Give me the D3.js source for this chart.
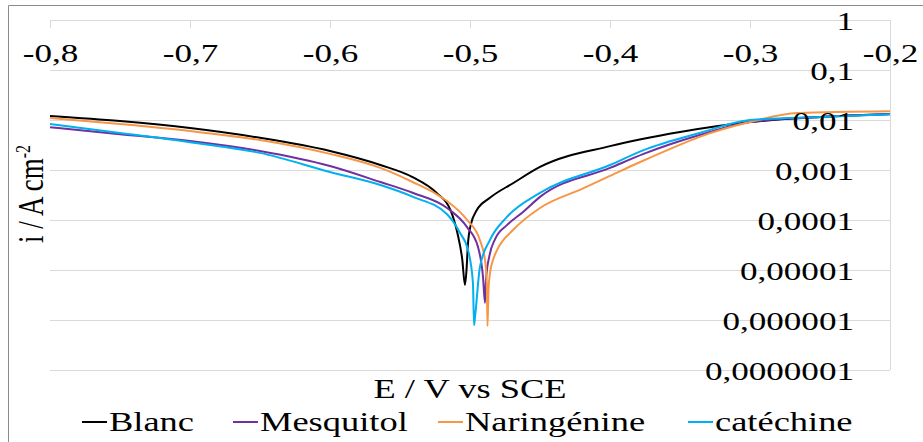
<!DOCTYPE html>
<html>
<head>
<meta charset="utf-8">
<script src="https://cdn.jsdelivr.net/npm/d3@7"></script>
<style>
  html, body { margin: 0; padding: 0; background: #fff; }
  svg { display: block; }
</style>
</head>
<body>
<svg id="chart" width="923" height="442" style="font-family: 'Liberation Serif', serif;"></svg>
<script>
// ---------- data ----------
const seriesNames = ["Blanc", "Mesquitol", "Naringénine", "catéchine"];
const seriesColors = ["#000000", "#7030A0", "#F79646", "#00B0F0"];

const blancE = [-0.80,-0.75,-0.70,-0.65,-0.60,-0.564,-0.541,-0.524,-0.514,-0.509,-0.5055,-0.5036,-0.5025,-0.5015,-0.4995,-0.495,-0.486,-0.469,-0.45,-0.40,-0.35,-0.30,-0.25,-0.20];
const blancI = [1.2e-2,9.5e-3,6.9e-3,4.4e-3,2.4e-3,1.26e-3,7.2e-4,3.5e-4,1.6e-4,5.5e-5,1.6e-5,5.0e-6,1.0e-5,3.2e-5,7.9e-5,1.6e-4,2.75e-4,5.5e-4,1.15e-3,3.0e-3,5.75e-3,9.1e-3,1.15e-2,1.32e-2];

const mesquitolE = [-0.80,-0.75,-0.70,-0.65,-0.60,-0.564,-0.541,-0.5164,-0.5021,-0.4943,-0.4907,-0.4893,-0.4886,-0.486,-0.482,-0.4736,-0.4621,-0.45,-0.40,-0.376,-0.336,-0.30,-0.25,-0.20];
const mesquitolI = [7.2e-3,5.2e-3,3.8e-3,2.4e-3,1.2e-3,5.75e-4,3.5e-4,1.74e-4,7.2e-5,2.9e-5,7.2e-6,2.2e-6,6.3e-6,2.0e-5,4.2e-5,7.9e-5,1.45e-4,2.9e-4,1.1e-3,2.1e-3,5.0e-3,9.1e-3,1.15e-2,1.3e-2];

const naringenineE = [-0.80,-0.75,-0.70,-0.65,-0.60,-0.564,-0.541,-0.524,-0.5164,-0.502,-0.493,-0.4893,-0.488,-0.4875,-0.4868,-0.4857,-0.4835,-0.4807,-0.4693,-0.45,-0.42,-0.40,-0.38,-0.359,-0.336,-0.30,-0.266,-0.20];
const naringenineI = [1.1e-2,8.3e-3,6.0e-3,3.98e-3,2.1e-3,1.1e-3,5.75e-4,3.3e-4,2.4e-4,1.0e-4,4.0e-5,1.6e-5,5.5e-6,7.6e-7,4.0e-6,8.7e-6,1.6e-5,2.5e-5,6.3e-5,1.74e-4,4.2e-4,7.6e-4,1.38e-3,2.5e-3,4.6e-3,9.1e-3,1.38e-2,1.5e-2];

const catechineE = [-0.80,-0.75,-0.70,-0.65,-0.60,-0.564,-0.5407,-0.5164,-0.5071,-0.5014,-0.4979,-0.4971,-0.4964,-0.4929,-0.4857,-0.4736,-0.45,-0.40,-0.376,-0.336,-0.30,-0.25,-0.20];
const catechineI = [8.3e-3,5.5e-3,3.6e-3,2.2e-3,9.1e-4,5.0e-4,2.9e-4,1.3e-4,5.5e-5,2.5e-5,5.5e-6,7.9e-7,1.15e-6,1.15e-5,4.0e-5,1.15e-4,3.5e-4,1.26e-3,2.5e-3,5.5e-3,1.0e-2,1.15e-2,1.3e-2];

const xTicks = [-0.8,-0.7,-0.6,-0.5,-0.4,-0.3,-0.2];
const yTicks = [1,0.1,0.01,0.001,0.0001,0.00001,0.000001,0.0000001];
const yTickLabels = ["1","0,1","0,01","0,001","0,0001","0,00001","0,000001","0,0000001"];
const xTitle = "E / V vs SCE";
const yTitleMain = "i / A cm";
const yTitleSup = "-2";

// ---------- layout ----------
const SERIF = "'Liberation Serif', 'Times New Roman', serif";
const SX = 1.35;           // horizontal stretch of the text in the reference
const FONT = 26;
const svg = d3.select("#chart");
const plot = {left: 50, right: 890, top: 20, bottom: 370};

const x = d3.scaleLinear().domain([-0.8, -0.2]).range([plot.left, plot.right]);
const y = d3.scaleLog().domain([1e-7, 1]).range([plot.bottom, plot.top]);

const fr = d3.formatLocale({decimal: ",", thousands: " ", grouping: [3], currency: ["", "€"], minus: "-"});
const fmtX = fr.format(".1f");

// outer chart border
svg.append("path")
  .attr("d", `M8.5,442 L8.5,5.5 L923,5.5`)
  .attr("fill", "none").attr("stroke", "#8c8c8c").attr("stroke-width", 1);

// horizontal gridlines
const grid = svg.append("g").attr("transform", `translate(${plot.left},0)`)
  .call(d3.axisRight(y).tickValues(yTicks).tickSize(plot.right - plot.left).tickFormat(""));
grid.select(".domain").remove();
grid.selectAll(".tick line").attr("stroke", "#d9d9d9").attr("stroke-width", 1);

// right border of the plot area
svg.append("line")
  .attr("x1", plot.right + 0.5).attr("x2", plot.right + 0.5)
  .attr("y1", plot.top).attr("y2", plot.bottom)
  .attr("stroke", "#d9d9d9");

// x axis (at the top, ticks pointing down)
const xAxis = svg.append("g").attr("transform", `translate(0,${plot.top})`)
  .call(d3.axisBottom(x).tickValues(xTicks).tickSizeInner(8).tickSizeOuter(0).tickFormat(fmtX));
xAxis.attr("font-family", null).attr("font-size", null);
xAxis.select(".domain").attr("stroke", "#d9d9d9");
xAxis.selectAll(".tick line").attr("stroke", "#d9d9d9");
xAxis.selectAll(".tick text")
  .attr("y", null).attr("dy", null)
  .attr("transform", `translate(0,42) scale(${SX},1)`)
  .attr("text-anchor", "middle")
  .style("font-size", FONT + "px")
  .style("font-family", SERIF)
  .attr("fill", "#000");

// curves
const series = [
  {E: blancE, I: blancI},
  {E: mesquitolE, I: mesquitolI},
  {E: naringenineE, I: naringenineI},
  {E: catechineE, I: catechineI}
];
const line = d3.line().x(d => x(d[0])).y(d => y(d[1])).curve(d3.curveMonotoneX);
series.forEach((s, k) => {
  const pts = s.E.map((e, i) => [e, s.I[i]]);
  svg.append("path").datum(pts)
    .attr("d", line)
    .attr("fill", "none")
    .attr("stroke", seriesColors[k])
    .attr("stroke-width", 2)
    .attr("stroke-linejoin", "round");
});

// y tick labels (right side, right-aligned)
const yAxis = svg.append("g").attr("transform", `translate(854,0)`)
  .call(d3.axisLeft(y).tickValues(yTicks).tickSize(0).tickPadding(0)
    .tickFormat((d, i) => yTickLabels[i]));
yAxis.attr("font-family", null).attr("font-size", null);
yAxis.select(".domain").remove();
yAxis.selectAll(".tick text")
  .attr("x", null).attr("dy", null)
  .attr("transform", `translate(0,9) scale(${SX},1)`)
  .attr("text-anchor", "end")
  .style("font-size", FONT + "px")
  .style("font-family", SERIF)
  .attr("fill", "#000");

// x axis title
svg.append("text")
  .attr("transform", `translate(${(plot.left + plot.right) / 2},398) scale(${SX},1)`)
  .attr("text-anchor", "middle")
  .style("font-size", "27px")
  .style("font-family", SERIF)
  .attr("fill", "#000")
  .text(xTitle);

// y axis title
const yt = svg.append("text")
  .attr("transform", `translate(43,194) rotate(-90) scale(1,${SX})`)
  .attr("text-anchor", "middle")
  .style("font-size", "27px")
  .style("font-family", SERIF)
  .attr("fill", "#000");
yt.append("tspan").text(yTitleMain);
yt.append("tspan").attr("dy", -10).style("font-size", "16px").text(yTitleSup);

// legend
const legendX = [82, 233, 438, 688];
seriesNames.forEach((name, k) => {
  const g = svg.append("g");
  g.append("line")
    .attr("x1", legendX[k]).attr("x2", legendX[k] + 25)
    .attr("y1", 422).attr("y2", 422)
    .attr("stroke", seriesColors[k]).attr("stroke-width", 2);
  g.append("text")
    .attr("transform", `translate(${legendX[k] + 27},431) scale(${SX},1)`)
    .style("font-size", "27px")
    .style("font-family", SERIF)
    .attr("fill", "#000")
    .text(name);
});
</script>
</body>
</html>
